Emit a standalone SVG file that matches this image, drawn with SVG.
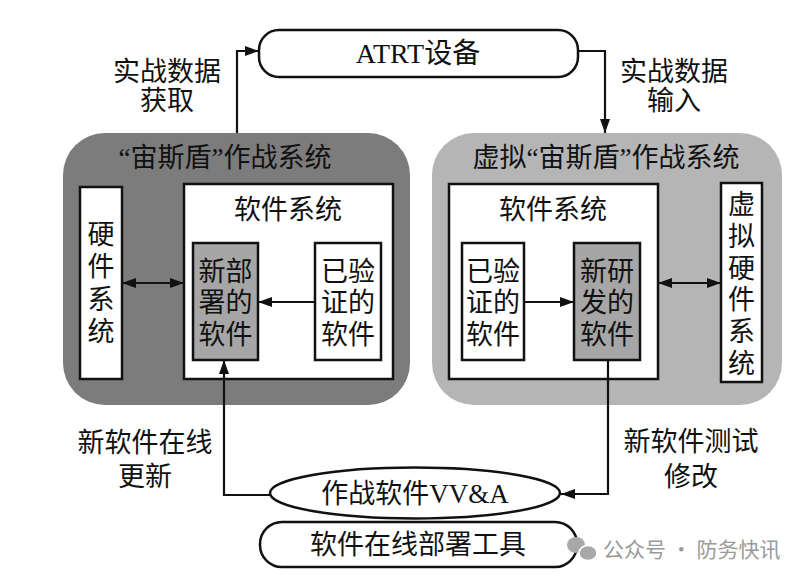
<svg xmlns="http://www.w3.org/2000/svg" width="809" height="581" viewBox="0 0 809 581">
<style>
.t{font-family:"Liberation Serif","Noto Sans CJK SC",serif;font-size:27px;fill:#111;text-anchor:middle;dominant-baseline:central}
.box{fill:#fff;stroke:#111;stroke-width:2.5}
.gbox{fill:#a6a6a6;stroke:#111;stroke-width:2.5}
.ln{fill:none;stroke:#111;stroke-width:2.2}
.wm{font-family:"Noto Sans CJK SC","Noto Sans",sans-serif;font-size:21px;fill:#9a9a9a;dominant-baseline:central}
</style>
<defs>
<marker id="ah" viewBox="0 0 14 10" refX="14" refY="5" markerWidth="14" markerHeight="10" markerUnits="userSpaceOnUse" orient="auto-start-reverse">
<path d="M0,0 L14,5 L0,10 Z" fill="#111"/>
</marker>
</defs>
<rect width="809" height="581" fill="#fff"/>

<g id="atrt">
<rect x="259" y="30" width="319" height="47" rx="20" class="box"/>
<text x="418" y="53" class="t" style="font-size:28px">ATRT设备</text>
</g>

<g id="aegis">
<rect x="63" y="133" width="347" height="272" rx="42" fill="#7c7c7c"/>
<text x="225" y="158" class="t">“宙斯盾”作战系统</text>
</g>

<g id="virtual-aegis">
<rect x="432" y="133" width="350" height="272" rx="42" fill="#b5b5b5"/>
<text x="606" y="158" class="t">虚拟“宙斯盾”作战系统</text>
</g>

<g id="hw">
<rect x="80" y="187" width="42" height="192" class="box"/>
<text class="t" x="101"><tspan x="101" y="235">硬</tspan><tspan x="101" y="267">件</tspan><tspan x="101" y="300">系</tspan><tspan x="101" y="332">统</tspan></text>
</g>

<g id="sw-left">
<rect x="184" y="184" width="209" height="195" class="box"/>
<text x="288" y="210" class="t">软件系统</text>
</g>

<g id="new-deployed">
<rect x="193" y="243" width="65" height="117" class="gbox"/>
<text class="t"><tspan x="225.5" y="272">新部</tspan><tspan x="225.5" y="303">署的</tspan><tspan x="225.5" y="335">软件</tspan></text>
</g>

<g id="verified-left">
<rect x="315" y="243" width="66" height="117" class="box"/>
<text class="t"><tspan x="348" y="272">已验</tspan><tspan x="348" y="303">证的</tspan><tspan x="348" y="335">软件</tspan></text>
</g>

<g id="sw-right">
<rect x="449" y="184" width="209" height="195" class="box"/>
<text x="553" y="210" class="t">软件系统</text>
</g>

<g id="verified-right">
<rect x="462" y="243" width="62" height="117" class="box"/>
<text class="t"><tspan x="493" y="272">已验</tspan><tspan x="493" y="303">证的</tspan><tspan x="493" y="335">软件</tspan></text>
</g>

<g id="new-developed">
<rect x="574" y="243" width="66" height="117" class="gbox"/>
<text class="t"><tspan x="607" y="272">新研</tspan><tspan x="607" y="303">发的</tspan><tspan x="607" y="335">软件</tspan></text>
</g>

<g id="vhw">
<rect x="721" y="183" width="41" height="199" class="box"/>
<text class="t"><tspan x="741.5" y="205">虚</tspan><tspan x="741.5" y="237">拟</tspan><tspan x="741.5" y="269">硬</tspan><tspan x="741.5" y="300">件</tspan><tspan x="741.5" y="332">系</tspan><tspan x="741.5" y="364">统</tspan></text>
</g>

<g id="vva">
<ellipse cx="415" cy="493" rx="145" ry="25.5" class="box"/>
<text x="415" y="494" class="t">作战软件VV&amp;A</text>
</g>

<g id="tool">
<rect x="260" y="522" width="317" height="45" rx="22" class="box"/>
<text x="418" y="545" class="t">软件在线部署工具</text>
</g>

<g id="connectors">
<path d="M237,133 V51 H259" class="ln" marker-end="url(#ah)"/>
<path d="M578,51 H605 V133" class="ln" marker-end="url(#ah)"/>
<path d="M122,283 H184" class="ln" marker-start="url(#ah)" marker-end="url(#ah)"/>
<path d="M315,302 H258" class="ln" marker-end="url(#ah)"/>
<path d="M524,302 H574" class="ln" marker-end="url(#ah)"/>
<path d="M658,283 H721" class="ln" marker-start="url(#ah)" marker-end="url(#ah)"/>
<path d="M270,495 H224 V360" class="ln" marker-end="url(#ah)"/>
<path d="M608,360 V494 H561" class="ln" marker-end="url(#ah)"/>
</g>

<g id="labels">
<text x="167" y="72" class="t">实战数据</text>
<text x="167" y="101" class="t">获取</text>
<text x="674" y="72" class="t">实战数据</text>
<text x="674" y="101" class="t">输入</text>
<text x="145" y="443" class="t">新软件在线</text>
<text x="145" y="477" class="t">更新</text>
<text x="691" y="442" class="t">新软件测试</text>
<text x="691" y="477" class="t">修改</text>
</g>

<g id="watermark">
<ellipse cx="576" cy="545" rx="9" ry="8" fill="#a8a8a8"/>
<ellipse cx="588" cy="553" rx="9" ry="7.5" fill="#a8a8a8" stroke="#fff" stroke-width="1.5"/>
<text x="603" y="548" class="wm">公众号 · 防务快讯</text>
</g>
</svg>
